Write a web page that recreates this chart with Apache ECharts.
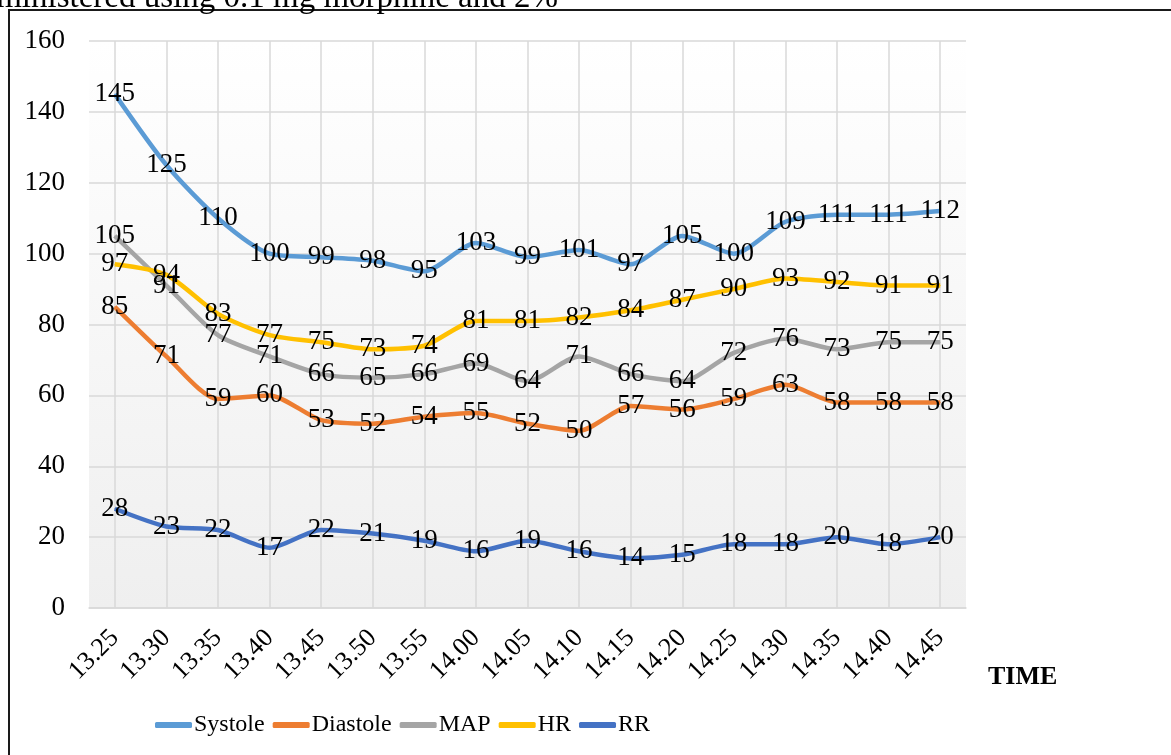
<!DOCTYPE html>
<html>
<head>
<meta charset="utf-8">
<script src="https://cdn.jsdelivr.net/npm/echarts@6/dist/echarts.min.js"></script>
<style>
  html, body { margin: 0; padding: 0; background: #fff; }
  #chart { width: 1171px; height: 755px; }
</style>
</head>
<body>
<div id="chart"></div>
<script>
// time points
var times = ['13.25', '13.30', '13.35', '13.40', '13.45', '13.50', '13.55', '14.00', '14.05',
             '14.10', '14.15', '14.20', '14.25', '14.30', '14.35', '14.40', '14.45'];

// vitals
var systole  = [145, 125, 110, 100, 99, 98, 95, 103, 99, 101, 97, 105, 100, 109, 111, 111, 112];
var diastole = [85, 71, 59, 60, 53, 52, 54, 55, 52, 50, 57, 56, 59, 63, 58, 58, 58];
var map      = [105, 91, 77, 71, 66, 65, 66, 69, 64, 71, 66, 64, 72, 76, 73, 75, 75];
var hr       = [97, 94, 83, 77, 75, 73, 74, 81, 81, 82, 84, 87, 90, 93, 92, 91, 91];
var rr       = [28, 23, 22, 17, 22, 21, 19, 16, 19, 16, 14, 15, 18, 18, 20, 18, 20];

var names  = ['Systole', 'Diastole', 'MAP', 'HR', 'RR'];
var colors = ['#5B9BD5', '#ED7D31', '#A5A5A5', '#FFC000', '#4472C4'];
var values = [systole, diastole, map, hr, rr];

var font = '"Liberation Serif", "Times New Roman", serif';

function makeSeries(i) {
    return {
        name: names[i],
        type: 'line',
        data: values[i],
        smooth: 0.25,
        symbol: 'circle',
        symbolSize: 1,
        lineStyle: { width: 4.5, color: colors[i] },
        itemStyle: { color: colors[i] },
        label: {
            show: true,
            position: 'inside',
            color: '#000',
            fontFamily: font,
            fontSize: 27
        },
        emphasis: { disabled: true }
    };
}

var myChart = echarts.init(document.getElementById('chart'));
myChart.setOption({
    animation: false,
    color: colors,
    textStyle: { fontFamily: font },
    grid: {
        left: 89, right: 205, top: 41, bottom: 147,
        show: true,
        borderWidth: 0,
        backgroundColor: {
            type: 'linear', x: 0, y: 0, x2: 0, y2: 1,
            colorStops: [{ offset: 0, color: '#ffffff' }, { offset: 1, color: '#efefef' }]
        }
    },
    legend: {
        data: names,
        bottom: 13,
        left: 150,
        icon: 'roundRect',
        itemWidth: 37,
        itemHeight: 6,
        itemGap: 8,
        textStyle: { color: '#000', fontFamily: font, fontSize: 24, padding: [0, 0, 0, -3] }
    },
    xAxis: {
        type: 'category',
        data: times,
        boundaryGap: true,
        axisLine: { lineStyle: { color: '#d9d9d9', width: 1.5 } },
        axisTick: { show: false },
        axisLabel: {
            rotate: 45,
            margin: 26,
            padding: [10, 0, 0, 0],
            color: '#000',
            fontFamily: font,
            fontSize: 26,
            interval: 0
        },
        splitLine: { show: true, alignWithLabel: true, lineStyle: { color: '#d9d9d9', width: 1.5 } }
    },
    yAxis: {
        type: 'value',
        min: 0,
        max: 160,
        interval: 20,
        axisLine: { show: false },
        axisTick: { show: false },
        axisLabel: { color: '#000', fontFamily: font, fontSize: 27, margin: 24 },
        splitLine: { lineStyle: { color: '#d9d9d9', width: 1.5 } }
    },
    graphic: [
        {
            type: 'rect',
            shape: { x: 9, y: 10, width: 1200, height: 800 },
            style: { fill: 'none', stroke: '#1a1a1a', lineWidth: 2 },
            silent: true
        },
        {
            type: 'text',
            x: 558, y: 15,
            style: {
                text: 'administered using 0.1 mg morphine and 2%',
                font: '33px ' + font,
                fill: '#000',
                textAlign: 'right',
                verticalAlign: 'bottom'
            }
        },
        {
            type: 'text',
            x: 988, y: 664,
            style: {
                text: 'TIME',
                font: 'bold 26px ' + font,
                fill: '#000'
            }
        }
    ],
    series: [0, 1, 2, 3, 4].map(makeSeries)
});
</script>
</body>
</html>
